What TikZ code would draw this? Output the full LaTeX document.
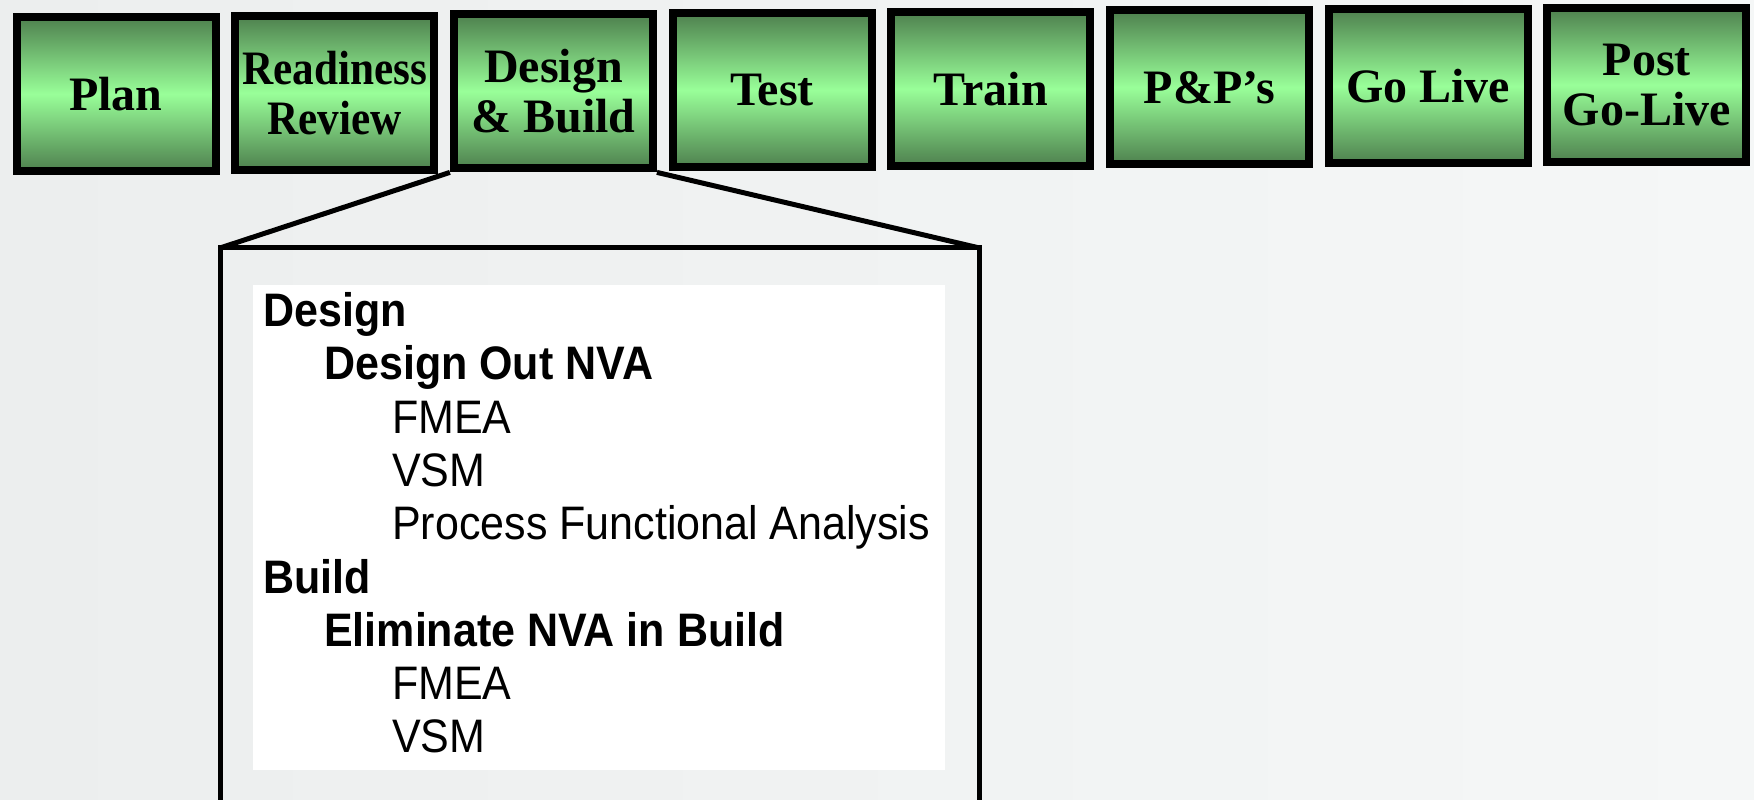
\documentclass[tikz,border=0pt]{standalone}
\usepackage{fontspec}
\usepackage{xcolor}
\usepackage{tikz}
\usetikzlibrary{positioning}
\setmainfont{Liberation Serif}
\newfontfamily\narrowserif[FakeStretch=0.9]{Liberation Serif}
\newfontfamily\listfont[FakeStretch=0.915]{Liberation Sans}

\definecolor{stagedark}{RGB}{78,128,78}
\definecolor{stagelight}{RGB}{153,255,153}
\definecolor{bgleft}{RGB}{236,238,238}
\definecolor{bgright}{RGB}{245,247,247}

\begin{document}
\begin{tikzpicture}[
    x=0.1mm, y=-0.1mm,
    node distance=1.17mm,
    stage/.style={rectangle, draw, line width=0.8mm, top color=stagedark, bottom color=stagedark, middle color=stagelight, minimum width=19.9mm, minimum height=15.4mm, inner sep=0pt, align=center, font=\bfseries\fontsize{4.8mm}{5mm}\selectfont},
    narrowstage/.style={stage, font=\narrowserif\bfseries\fontsize{4.8mm}{5mm}\selectfont},
    frame/.style={rectangle, draw, line width=0.5mm, minimum width=75.95mm, minimum height=60mm, inner sep=0pt, outer sep=0pt},
    panel/.style={rectangle, fill=white, minimum width=69.2mm, minimum height=48.5mm, inner sep=0pt, outer sep=0pt},
    listtext/.style={inner sep=0pt, align=left, font=\listfont\fontsize{4.7mm}{5.33mm}\selectfont},
    zoomline/.style={line width=0.5mm}
]
\useasboundingbox (0,0) rectangle (1754,800);
\clip (0,0) rectangle (1754,800);
\fill[left color=bgleft, right color=bgright] (0,0) rectangle (1754,800);

% phases
\node[stage] (plan) at (116,94) {Plan};
\node[narrowstage, right=of plan, yshift=0.13mm] (readiness) {Readiness\\Review};
\node[stage, right=of readiness, yshift=0.13mm] (design) {Design\\\& Build};
\node[stage, right=of design, yshift=0.13mm] (test) {Test};
\node[stage, right=of test, yshift=0.13mm] (train) {Train};
\node[stage, right=of train, yshift=0.13mm] (pp) {P\&P’s};
\node[stage, right=of pp, yshift=0.13mm] (golive) {Go Live};
\node[stage, right=of golive, yshift=0.13mm] (postlive) {Post\\Go-Live};

% zoom on design & build
\node[frame, anchor=north west] (detail) at (220,248) {};
\node[panel, anchor=north west] (panel) at (253,285) {};
\node[listtext, anchor=base west] (list) at (262.5,753) {%
  \textbf{Design}\\
  \hspace*{6.1mm}\textbf{Design Out NVA}\\
  \hspace*{12.9mm}FMEA\\
  \hspace*{12.9mm}VSM\\
  \hspace*{12.9mm}Process Functional Analysis\\
  \textbf{Build}\\
  \hspace*{6.1mm}\textbf{Eliminate NVA in Build}\\
  \hspace*{12.9mm}FMEA\\
  \hspace*{12.9mm}VSM};

\draw[zoomline] (design.south west) -- (detail.north west);
\draw[zoomline] (design.south east) -- (detail.north east);

\end{tikzpicture}
\end{document}
